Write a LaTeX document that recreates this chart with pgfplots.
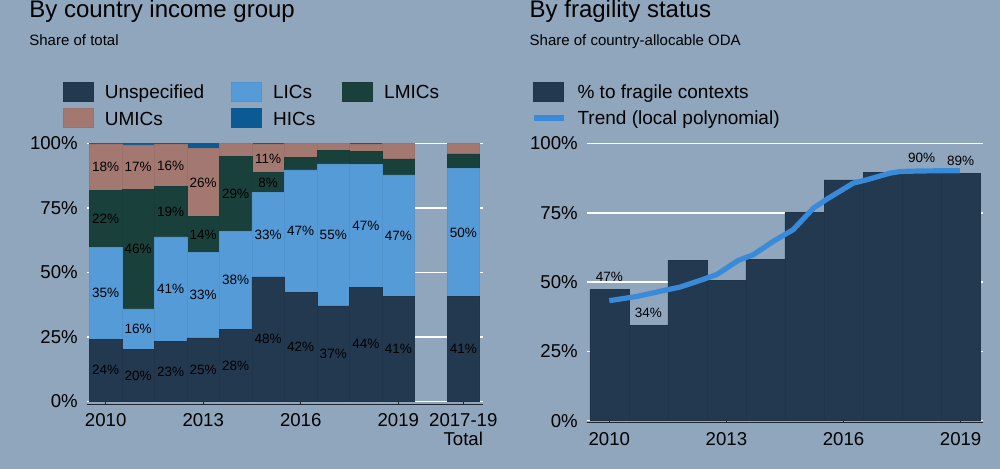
\documentclass[border=0pt]{standalone}
\usepackage{fontspec}
\setmainfont{Liberation Sans}
\usepackage{pgfplots}
\usepackage{pgfplotstable}
\pgfplotsset{compat=1.18}

\definecolor{bg}{HTML}{8FA6BD}
\definecolor{cU}{HTML}{233950}
\definecolor{cL}{HTML}{559BD8}
\definecolor{cLM}{HTML}{1A403B}
\definecolor{cUM}{HTML}{A37870}
\definecolor{cH}{HTML}{0B5A94}
\definecolor{cT}{HTML}{3A8ADA}
\definecolor{axc}{HTML}{1E2530}

% By country income group: shares (%) stacked
\pgfplotstableread{
x U L LM UM H
2010 24.2 35.4 22.3 17.9 0.2
2011 20.1 15.8 46.3 17.2 0.6
2012 23.3 40.5 19.5 16.3 0.4
2013 24.6 33.2 13.8 26.3 2.1
2014 28.0 38.0 28.9 5.1 0.0
2015 48.3 32.7 7.6 10.9 0.5
2016 42.3 47.4 4.9 5.4 0.0
2017 37.0 55.0 5.2 2.8 0.0
2018 44.3 47.4 5.1 2.9 0.3
2019 40.8 47.0 6.2 6.0 0.0
2021 40.6 49.8 5.5 4.1 0.0
}\incomedata

% label positions (segment mid-points) and label values
\pgfplotstableread{
x y lab
2010 12.1 24
2010 41.9 35
2010 70.75 22
2010 90.85 18
2011 10.05 20
2011 28.0 16
2011 59.05 46
2011 90.8 17
2012 11.65 23
2012 43.55 41
2012 73.55 19
2012 91.45 16
2013 12.3 25
2013 41.2 33
2013 64.7 14
2013 84.75 26
2014 14.0 28
2014 47.0 38
2014 80.45 29
2015 24.15 48
2015 64.65 33
2015 84.8 8
2015 94.05 11
2016 21.15 42
2016 66.0 47
2017 18.5 37
2017 64.5 55
2018 22.15 44
2018 68.0 47
2019 20.4 41
2019 64.3 47
2021 20.3 41
2021 65.5 50
}\incomelabels

% By fragility status
\pgfplotstableread{
x y
2010 47.5
2011 34.3
2012 57.8
2013 50.7
2014 58.1
2015 75.1
2016 86.9
2017 89.5
2018 90.3
2019 89.1
}\fragdata

\pgfplotstableread{
x y lab
2010 47.5 47
2011 34.3 34
2018 90.3 90
2019 89.1 89
}\fraglabels

\pgfplotstableread{
x y
2010.00 43.3
2010.70 44.8
2011.47 47.2
2011.81 48.2
2012.24 50.2
2012.75 52.7
2013.01 55.1
2013.30 57.8
2013.69 59.9
2014.20 64.7
2014.71 68.9
2015.23 76.7
2015.57 79.9
2016.25 85.7
2016.59 86.9
2017.19 89.3
2017.45 89.9
2018.00 90.1
2018.98 90.2
}\trenddata

\pgfplotsset{
  panel/.style={
    scale only axis, width=198pt, anchor=south west,
    axis x line*=bottom,
    x axis line style={-, draw=axc, line width=0.8pt},
    y axis line style={draw=none},
    ytick pos=left,
    ymajorgrids, grid style={white, line width=0.75pt},
    ytick={0,25,50,75,100}, yticklabels={0\%,25\%,50\%,75\%,100\%},
    tick label style={font=\fontsize{9.3}{9.15}\selectfont, text=black},
    xticklabel style={align=center, yshift=-1.2pt},
    yticklabel style={xshift=-1pt},
    xtick style={draw=axc, line width=0.6pt}, ytick style={draw=none},
    tick align=inside, major tick length=2.9pt,
    clip=false,
    legend style={draw=none, fill=none, inner sep=0pt, outer sep=0pt,
      anchor=north west,
      font=\fontsize{9.5}{11}\selectfont,
      nodes={inner sep=0pt, text height=6.8pt, text depth=0pt, minimum height=9.5pt},
      /tikz/every odd column/.append style={column sep=5.7pt},
      /tikz/every even column/.append style={column sep=13.5pt},
      /tikz/row sep=3.5pt},
    legend cell align=left,
  },
  lbl/.style={draw=none, mark=none, point meta=explicit symbolic,
    nodes near coords={\pgfplotspointmeta\%},
    nodes near coords align={anchor=center},
    every node near coord/.append style={font=\fontsize{6.75}{8}\selectfont, text=black, inner sep=0pt}},
  swatch/.style={legend image code/.code={\fill[##1] (0pt,-4.75pt) rectangle (15pt,4.75pt);}},
  linelegend/.style={legend image code/.code={\draw[##1] (0pt,0pt) -- (15pt,0pt);}},
}

\begin{document}
\begin{tikzpicture}
\path[use as bounding box, fill=bg] (0,0) rectangle (500pt,-234.5pt);

\node[anchor=base west, inner sep=0pt, font=\fontsize{12}{14}\selectfont] at (14.5pt,-8.65pt) {By country income group};
\node[anchor=base west, inner sep=0pt, font=\fontsize{7.5}{9}\selectfont] at (14.5pt,-23pt) {Share of total};
\node[anchor=base west, inner sep=0pt, font=\fontsize{12}{14}\selectfont] at (264.65pt,-8.65pt) {By fragility status};
\node[anchor=base west, inner sep=0pt, font=\fontsize{7.5}{9}\selectfont] at (264.65pt,-23pt) {Share of country-allocable ODA};

% ---------- left panel ----------
\begin{axis}[panel, at={(43.35pt,-202.15pt)}, height=130.5pt,
  xmin=2009.416, xmax=2021.597, ymin=-1.08, ymax=100,
  ybar stacked, bar width=1, swatch,
  xtick={2010,2013,2016,2019,2021},
  xticklabels={2010,2013,2016,2019,{2017-19\\Total}},
  legend columns=3,
  legend style={at={(axis description cs:-0.0598,1.2349)}},
]
\addplot[fill=cU, draw=cU!93!black, line width=0.25pt] table[x=x, y=U] \incomedata;
\addlegendentry{Unspecified}
\addplot[fill=cL, draw=cL!95!black, line width=0.25pt] table[x=x, y=L] \incomedata;
\addlegendentry{LICs}
\addplot[fill=cLM, draw=cLM!93!black, line width=0.25pt] table[x=x, y=LM] \incomedata;
\addlegendentry{LMICs}
\addplot[fill=cUM, draw=cUM!95!black, line width=0.25pt] table[x=x, y=UM] \incomedata;
\addlegendentry{UMICs}
\addplot[fill=cH, draw=cH, line width=0.25pt] table[x=x, y=H] \incomedata;
\addlegendentry{HICs}
\end{axis}

\begin{axis}[scale only axis, width=198pt, height=130.5pt, anchor=south west,
  at={(43.35pt,-202.15pt)}, hide axis, clip=false,
  xmin=2009.416, xmax=2021.597, ymin=-1.08, ymax=100]
\addplot[lbl] table[x=x, y=y, meta=lab] \incomelabels;
\end{axis}

% ---------- right panel ----------
\begin{axis}[panel, at={(293.35pt,-211.35pt)}, height=139.6pt,
  xmin=2009.421, xmax=2019.565, ymin=-0.72, ymax=100,
  xtick={2010,2013,2016,2019},
  xticklabels={2010,2013,2016,2019},
  legend style={at={(axis description cs:-0.1407,1.2203)}},
]
\addplot[ybar, bar width=1, fill=cU, draw=cU!93!black, line width=0.25pt, swatch] table[x=x, y=y] \fragdata;
\addlegendentry{\% to fragile contexts}
\addplot[cT, line width=2.6pt, line join=round, mark=none, linelegend] table[x=x, y=y] \trenddata;
\addlegendentry{Trend (local polynomial)}
\addplot[lbl, forget plot, every node near coord/.append style={yshift=6.2pt}] table[x=x, y=y, meta=lab] \fraglabels;
\end{axis}
\end{tikzpicture}
\end{document}
